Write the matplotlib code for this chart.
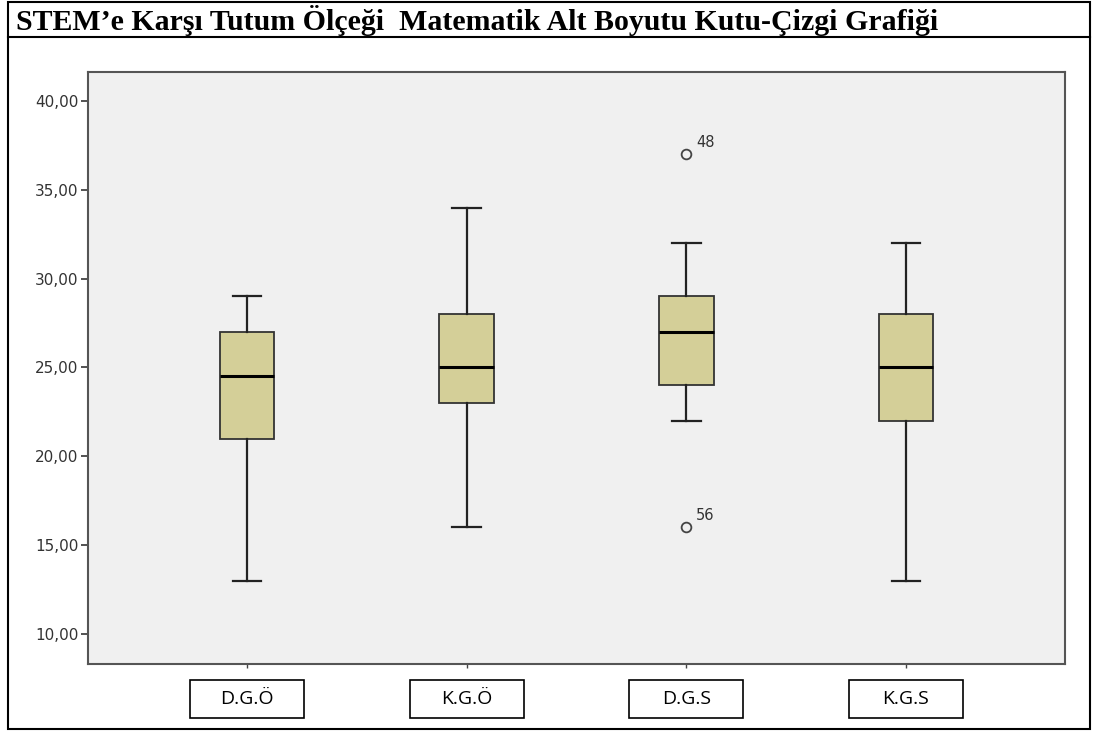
import matplotlib
matplotlib.use("Agg")
import matplotlib.pyplot as plt
import matplotlib.transforms as mtransforms
from matplotlib.patches import Rectangle
from matplotlib.lines import Line2D

# kutu-çizgi değerleri
gruplar = ["D.G.Ö", "K.G.Ö", "D.G.S", "K.G.S"]
alt_biyik = [13, 16, 22, 13]
q1 = [21, 23, 24, 22]
medyan = [24.5, 25, 27, 25]
q3 = [27, 28, 29, 28]
ust_biyik = [29, 34, 32, 32]
aykiri = [[], [], [37, 16], []]
aykiri_etiket = [[], [], ["48", "56"], []]
y_ticks = [10, 15, 20, 25, 30, 35, 40]

kutu_rengi = "#D4CF98"
arka_plan = "#F0F0F0"

fig = plt.figure(figsize=(10.94, 7.31), dpi=100)
ax = fig.add_axes([88 / 1094, 1 - 664 / 731, (1065 - 88) / 1094, (664 - 72) / 731])
ax.set_facecolor(arka_plan)

stats = []
for i, g in enumerate(gruplar):
    stats.append({
        "label": g,
        "whislo": alt_biyik[i],
        "q1": q1[i],
        "med": medyan[i],
        "q3": q3[i],
        "whishi": ust_biyik[i],
        "fliers": aykiri[i],
    })

pos = list(range(1, len(gruplar) + 1))
ax.bxp(stats, positions=pos, widths=0.25, patch_artist=True, showfliers=True,
       boxprops=dict(facecolor=kutu_rengi, edgecolor="#333333", linewidth=1.3),
       medianprops=dict(color="black", linewidth=2.2),
       whiskerprops=dict(color="#222222", linewidth=1.6),
       capprops=dict(color="#222222", linewidth=1.6),
       capwidths=0.13,
       flierprops=dict(marker="o", markersize=7, markerfacecolor="none",
                       markeredgecolor="#444444", markeredgewidth=1.3))

for i, (vals, labs) in enumerate(zip(aykiri, aykiri_etiket)):
    for v, l in zip(vals, labs):
        ax.annotate(l, (pos[i], v), xytext=(7, 5), textcoords="offset points",
                    fontsize=10.5, color="#333333", family="DejaVu Sans")

ax.set_xlim(0.276, 4.724)
ax.set_ylim(8.31, 41.63)
ax.set_yticks(y_ticks)
ax.set_yticklabels([f"{t:.2f}".replace(".", ",") for t in y_ticks], fontsize=11,
                   color="#333333", family="DejaVu Sans")
ax.tick_params(axis="y", direction="out", length=5, width=1.3, color="#444444", pad=2)
ax.set_xticks(pos)
ax.set_xticklabels([])
ax.tick_params(axis="x", direction="out", length=3, width=1, color="#444444")
for s in ax.spines.values():
    s.set_color("#555555")
    s.set_linewidth(1.5)

# etiket kutuları
trans = mtransforms.blended_transform_factory(ax.transData, ax.transAxes)
for p, g in zip(pos, gruplar):
    ax.add_patch(Rectangle((p - 0.26, -0.0912), 0.52, 0.064, transform=trans,
                           facecolor="white", edgecolor="black", linewidth=1.2, clip_on=False))
    ax.text(p, -0.059, g, transform=trans, ha="center", va="center",
            fontsize=14, family="Open Sans", color="black")

# başlık ve çerçeve
fig.text(16 / 1094, 1 - 21 / 731, "STEM’e Karşı Tutum Ölçeği  Matematik Alt Boyutu Kutu-Çizgi Grafiği",
         ha="left", va="center", fontsize=21.5, fontweight="bold", family="Liberation Serif")
fig.add_artist(Line2D([8 / 1094, 1090 / 1094], [1 - 37 / 731, 1 - 37 / 731], color="black", lw=1.5))
fig.add_artist(Rectangle((8 / 1094, 2 / 731), 1082 / 1094, 727 / 731, fill=False,
                         edgecolor="black", linewidth=1.5, transform=fig.transFigure))

fig.savefig("out.png", dpi=100)
